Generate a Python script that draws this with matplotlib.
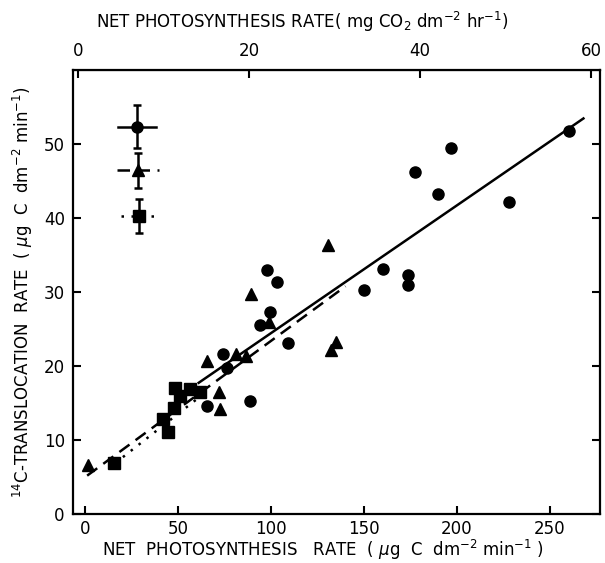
import matplotlib
matplotlib.use("Agg")
import matplotlib.pyplot as plt
import numpy as np

# net photosynthesis (ug C dm-2 min-1) vs 14C translocation rate
circ_x = [65.6, 74.0, 76.3, 88.7, 94.1, 98.0, 99.5, 103.0, 109.3, 150.0,
          160.2, 173.8, 173.8, 177.4, 189.9, 196.8, 228.1, 260.4]
circ_y = [14.6, 21.6, 19.7, 15.2, 25.5, 32.9, 27.3, 31.4, 23.1, 30.3,
          33.1, 32.3, 30.9, 46.2, 43.2, 49.5, 42.1, 51.7]

tri_x = [1.4, 65.3, 71.7, 72.6, 81.2, 86.7, 89.2, 99.1, 130.8, 132.1, 134.9]
tri_y = [6.6, 20.7, 16.5, 14.2, 21.6, 21.3, 29.7, 26.0, 36.4, 22.1, 23.2]

sq_x = [15.6, 41.8, 44.3, 47.6, 48.2, 51.2, 56.6, 61.8]
sq_y = [6.85, 12.8, 11.1, 14.3, 17.0, 15.9, 16.9, 16.5]

# regression lines: intercept, slope, x range
fit_circ = (7.2, 0.1725, 61, 268)
fit_tri = (5.0, 0.184, 1, 140)
fit_sq = (3.7, 0.197, 16, 65)

# mean +/- SD symbols in upper left
sd_x = [27.8, 28.1, 28.7]
sd_y = [52.3, 46.4, 40.3]
sd_xerr = [10.0, 11.3, 9.6]
sd_yerr = [2.9, 2.4, 2.3]

xticks = [0, 50, 100, 150, 200, 250]
yticks = [0, 10, 20, 30, 40, 50]
top_ticks = [0, 20, 40, 60]

fig = plt.figure(figsize=(6.05, 5.63), dpi=100)
ax = fig.add_axes([0.121, 0.087, 0.871, 0.789])

ms = 8
ax.plot(circ_x, circ_y, 'o', color='black', ms=ms)
ax.plot(tri_x, tri_y, '^', color='black', ms=ms)
ax.plot(sq_x, sq_y, 's', color='black', ms=ms)

styles = ['-', (0, (5, 3)), (0, (1, 3))]
for (a, b, x0, x1), ls in zip([fit_circ, fit_tri, fit_sq], styles):
    xx = np.array([x0, x1])
    ax.plot(xx, a + b * xx, color='black', lw=1.8, ls=ls)

markers = ['o', '^', 's']
for i in range(3):
    ax.errorbar(sd_x[i], sd_y[i], yerr=sd_yerr[i], fmt=markers[i], color='black',
                ms=ms, elinewidth=1.8, capsize=3, capthick=1.8)
    ax.plot([sd_x[i] - sd_xerr[i], sd_x[i] + sd_xerr[i]], [sd_y[i], sd_y[i]],
            color='black', lw=1.8, ls=styles[i])

ax.set_xlim(-6.5, 277)
ax.set_ylim(0, 60)
ax.set_xticks(xticks)
ax.set_yticks(yticks)
ax.tick_params(direction='in', length=6, width=1.5, labelsize=12,
               top=False, right=True, labelright=False)
ax.tick_params(axis='x', pad=4)
ax.tick_params(axis='y', pad=6)
for s in ax.spines.values():
    s.set_linewidth(1.6)

top = ax.secondary_xaxis('top', functions=(lambda x: (x + 3.8) * 0.2175,
                                           lambda t: t / 0.2175 - 3.8))
top.set_xticks(top_ticks)
top.tick_params(direction='in', length=6, width=1.5, labelsize=12, pad=7)

fig.text(0.159, 0.950,
         r'NET PHOTOSYNTHESIS RATE( mg CO$_2$ dm$^{-2}$ hr$^{-1}$)',
         fontsize=12, ha='left', va='baseline')
fig.text(0.169, 0.012,
         r'NET  PHOTOSYNTHESIS   RATE  ( $\mu$g  C  dm$^{-2}$ min$^{-1}$ )',
         fontsize=12, ha='left', va='baseline')
ax.set_ylabel(r'$^{14}$C-TRANSLOCATION  RATE  ( $\mu$g  C  dm$^{-2}$ min$^{-1}$)',
              fontsize=12, labelpad=6)

fig.savefig('out.png', dpi=100)
